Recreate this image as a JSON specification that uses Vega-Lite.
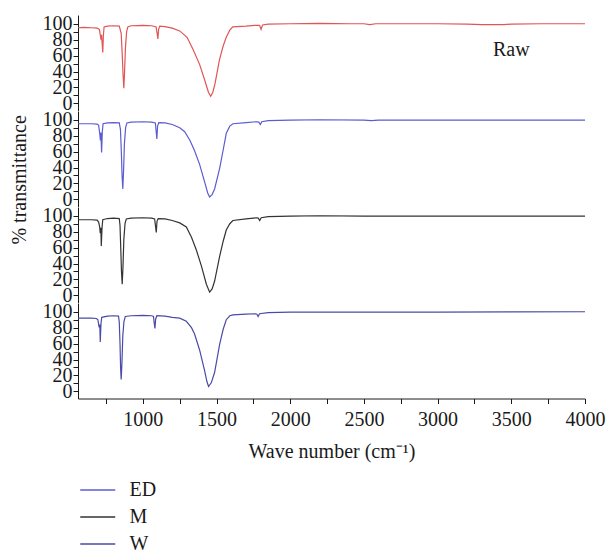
{
  "$schema": "https://vega.github.io/schema/vega-lite/v6.json",
  "padding": {"left": 10, "top": 13, "right": 4, "bottom": 0},
  "background": "white",
  "bounds": "flush",
  "config": {
    "font": "Liberation Serif",
    "view": {"stroke": null},
    "concat": {"spacing": 0}
  },
  "title": {"text": "% transmittance", "orient": "left", "anchor": "middle", "font": "Liberation Serif", "fontSize": 20, "fontWeight": "normal", "color": "#1a1a1a", "offset": 12, "dx": 104},
  "datasets": {
    "spectra": [
      {"series":"Raw","x":560,"y":95},{"series":"Raw","x":600,"y":95.5},{"series":"Raw","x":650,"y":95},{"series":"Raw","x":690,"y":94.5},{"series":"Raw","x":705,"y":93},{"series":"Raw","x":712,"y":85},{"series":"Raw","x":716,"y":80},{"series":"Raw","x":720,"y":86},{"series":"Raw","x":724,"y":75},{"series":"Raw","x":728,"y":64},{"series":"Raw","x":732,"y":85},{"series":"Raw","x":737,"y":96},{"series":"Raw","x":760,"y":97},{"series":"Raw","x":800,"y":97.5},{"series":"Raw","x":840,"y":97},{"series":"Raw","x":853,"y":88},{"series":"Raw","x":860,"y":62},{"series":"Raw","x":866,"y":35},{"series":"Raw","x":871,"y":19},{"series":"Raw","x":876,"y":40},{"series":"Raw","x":882,"y":70},{"series":"Raw","x":890,"y":90},{"series":"Raw","x":898,"y":96},{"series":"Raw","x":920,"y":97.5},{"series":"Raw","x":1000,"y":98},{"series":"Raw","x":1060,"y":97.5},{"series":"Raw","x":1090,"y":96},{"series":"Raw","x":1097,"y":88},{"series":"Raw","x":1102,"y":81},{"series":"Raw","x":1107,"y":93},{"series":"Raw","x":1115,"y":97},{"series":"Raw","x":1150,"y":96.5},{"series":"Raw","x":1200,"y":94.5},{"series":"Raw","x":1250,"y":91},{"series":"Raw","x":1300,"y":83},{"series":"Raw","x":1340,"y":68},{"series":"Raw","x":1385,"y":49},{"series":"Raw","x":1420,"y":29},{"series":"Raw","x":1445,"y":14},{"series":"Raw","x":1460,"y":9},{"series":"Raw","x":1475,"y":14},{"series":"Raw","x":1490,"y":25},{"series":"Raw","x":1520,"y":55},{"series":"Raw","x":1545,"y":72},{"series":"Raw","x":1566,"y":83},{"series":"Raw","x":1590,"y":92},{"series":"Raw","x":1610,"y":96},{"series":"Raw","x":1700,"y":97},{"series":"Raw","x":1760,"y":98},{"series":"Raw","x":1792,"y":98},{"series":"Raw","x":1802,"y":93},{"series":"Raw","x":1812,"y":98.5},{"series":"Raw","x":1850,"y":99.5},{"series":"Raw","x":2000,"y":100},{"series":"Raw","x":2200,"y":100.5},{"series":"Raw","x":2400,"y":100},{"series":"Raw","x":2500,"y":100},{"series":"Raw","x":2540,"y":99},{"series":"Raw","x":2580,"y":100},{"series":"Raw","x":2800,"y":100},{"series":"Raw","x":3000,"y":100},{"series":"Raw","x":3200,"y":99.5},{"series":"Raw","x":3300,"y":99},{"series":"Raw","x":3450,"y":99},{"series":"Raw","x":3500,"y":99.5},{"series":"Raw","x":3700,"y":100},{"series":"Raw","x":4000,"y":100},

      {"series":"ED","x":560,"y":95},{"series":"ED","x":600,"y":95},{"series":"ED","x":650,"y":95},{"series":"ED","x":690,"y":94.5},{"series":"ED","x":700,"y":93},{"series":"ED","x":708,"y":82},{"series":"ED","x":712,"y":74},{"series":"ED","x":716,"y":84},{"series":"ED","x":720,"y":59},{"series":"ED","x":725,"y":85},{"series":"ED","x":730,"y":95},{"series":"ED","x":760,"y":96},{"series":"ED","x":800,"y":96.5},{"series":"ED","x":840,"y":96},{"series":"ED","x":848,"y":88},{"series":"ED","x":854,"y":60},{"series":"ED","x":859,"y":30},{"series":"ED","x":864,"y":13},{"series":"ED","x":869,"y":35},{"series":"ED","x":875,"y":70},{"series":"ED","x":883,"y":90},{"series":"ED","x":892,"y":96},{"series":"ED","x":920,"y":97},{"series":"ED","x":1000,"y":97.5},{"series":"ED","x":1060,"y":97},{"series":"ED","x":1085,"y":96},{"series":"ED","x":1090,"y":86},{"series":"ED","x":1095,"y":76},{"series":"ED","x":1100,"y":92},{"series":"ED","x":1108,"y":96.5},{"series":"ED","x":1150,"y":96},{"series":"ED","x":1200,"y":94},{"series":"ED","x":1250,"y":90},{"series":"ED","x":1284,"y":85},{"series":"ED","x":1320,"y":74},{"series":"ED","x":1351,"y":61},{"series":"ED","x":1385,"y":44},{"series":"ED","x":1419,"y":22},{"series":"ED","x":1440,"y":8},{"series":"ED","x":1453,"y":3},{"series":"ED","x":1470,"y":6},{"series":"ED","x":1487,"y":13},{"series":"ED","x":1521,"y":39},{"series":"ED","x":1545,"y":62},{"series":"ED","x":1566,"y":83},{"series":"ED","x":1590,"y":92},{"series":"ED","x":1611,"y":95},{"series":"ED","x":1700,"y":96.5},{"series":"ED","x":1770,"y":97.5},{"series":"ED","x":1787,"y":97},{"series":"ED","x":1797,"y":94},{"series":"ED","x":1807,"y":97.5},{"series":"ED","x":1850,"y":99},{"series":"ED","x":2000,"y":99.5},{"series":"ED","x":2200,"y":100},{"series":"ED","x":2500,"y":99.5},{"series":"ED","x":2550,"y":99},{"series":"ED","x":2600,"y":99.5},{"series":"ED","x":2800,"y":99.5},{"series":"ED","x":3000,"y":99.5},{"series":"ED","x":3500,"y":99.5},{"series":"ED","x":4000,"y":99.5},

      {"series":"M","x":560,"y":95},{"series":"M","x":600,"y":95},{"series":"M","x":650,"y":95},{"series":"M","x":690,"y":94.5},{"series":"M","x":700,"y":92},{"series":"M","x":707,"y":86},{"series":"M","x":711,"y":78},{"series":"M","x":715,"y":85},{"series":"M","x":718,"y":62},{"series":"M","x":723,"y":85},{"series":"M","x":728,"y":95},{"series":"M","x":760,"y":96.5},{"series":"M","x":800,"y":97},{"series":"M","x":840,"y":96.5},{"series":"M","x":845,"y":88},{"series":"M","x":850,"y":60},{"series":"M","x":855,"y":30},{"series":"M","x":860,"y":14},{"series":"M","x":865,"y":35},{"series":"M","x":871,"y":70},{"series":"M","x":879,"y":90},{"series":"M","x":888,"y":96},{"series":"M","x":920,"y":97},{"series":"M","x":1000,"y":97.5},{"series":"M","x":1060,"y":97},{"series":"M","x":1080,"y":96},{"series":"M","x":1086,"y":87},{"series":"M","x":1091,"y":79},{"series":"M","x":1096,"y":93},{"series":"M","x":1104,"y":96.5},{"series":"M","x":1150,"y":96},{"series":"M","x":1200,"y":94},{"series":"M","x":1250,"y":91},{"series":"M","x":1295,"y":86},{"series":"M","x":1330,"y":73},{"series":"M","x":1363,"y":57},{"series":"M","x":1397,"y":37},{"series":"M","x":1431,"y":14},{"series":"M","x":1453,"y":4},{"series":"M","x":1470,"y":8},{"series":"M","x":1487,"y":18},{"series":"M","x":1521,"y":49},{"series":"M","x":1545,"y":68},{"series":"M","x":1566,"y":82},{"series":"M","x":1590,"y":90},{"series":"M","x":1611,"y":94},{"series":"M","x":1700,"y":96},{"series":"M","x":1770,"y":97.5},{"series":"M","x":1783,"y":97},{"series":"M","x":1793,"y":94},{"series":"M","x":1803,"y":97.5},{"series":"M","x":1850,"y":99},{"series":"M","x":2000,"y":99.5},{"series":"M","x":2200,"y":100},{"series":"M","x":2500,"y":99.5},{"series":"M","x":2800,"y":99.5},{"series":"M","x":3000,"y":99.5},{"series":"M","x":3500,"y":99.5},{"series":"M","x":4000,"y":99.5},

      {"series":"W","x":560,"y":92},{"series":"W","x":600,"y":92},{"series":"W","x":650,"y":92},{"series":"W","x":685,"y":91.5},{"series":"W","x":695,"y":90},{"series":"W","x":702,"y":82},{"series":"W","x":705,"y":80},{"series":"W","x":708,"y":84},{"series":"W","x":711,"y":62},{"series":"W","x":716,"y":85},{"series":"W","x":721,"y":93},{"series":"W","x":760,"y":94.5},{"series":"W","x":800,"y":95},{"series":"W","x":835,"y":94.5},{"series":"W","x":840,"y":87},{"series":"W","x":845,"y":60},{"series":"W","x":849,"y":30},{"series":"W","x":853,"y":15},{"series":"W","x":858,"y":35},{"series":"W","x":864,"y":70},{"series":"W","x":872,"y":88},{"series":"W","x":881,"y":94},{"series":"W","x":920,"y":95},{"series":"W","x":1000,"y":95.5},{"series":"W","x":1060,"y":95},{"series":"W","x":1072,"y":94},{"series":"W","x":1077,"y":86},{"series":"W","x":1082,"y":79},{"series":"W","x":1087,"y":91},{"series":"W","x":1095,"y":95},{"series":"W","x":1150,"y":94.5},{"series":"W","x":1200,"y":93},{"series":"W","x":1250,"y":92},{"series":"W","x":1295,"y":88},{"series":"W","x":1330,"y":80},{"series":"W","x":1351,"y":72},{"series":"W","x":1385,"y":52},{"series":"W","x":1419,"y":26},{"series":"W","x":1435,"y":12},{"series":"W","x":1446,"y":6},{"series":"W","x":1465,"y":11},{"series":"W","x":1487,"y":24},{"series":"W","x":1521,"y":59},{"series":"W","x":1545,"y":78},{"series":"W","x":1566,"y":90},{"series":"W","x":1590,"y":95},{"series":"W","x":1611,"y":96},{"series":"W","x":1700,"y":97},{"series":"W","x":1765,"y":97.5},{"series":"W","x":1774,"y":97},{"series":"W","x":1782,"y":94},{"series":"W","x":1792,"y":97.5},{"series":"W","x":1850,"y":99},{"series":"W","x":2000,"y":99.5},{"series":"W","x":2500,"y":99.5},{"series":"W","x":2800,"y":99.5},{"series":"W","x":3000,"y":99.5},{"series":"W","x":3500,"y":99.8},{"series":"W","x":4000,"y":100}
    ],
    "labels": [{"label": "Raw", "x": 3500, "y": 67}]
  },
  "vconcat": [
    {
      "width": 507, "height": 95.5,
      "encoding": {
        "x": {"field": "x", "type": "quantitative", "scale": {"domain": [560, 4000], "nice": false, "zero": false}, "axis": null},
        "y": {"field": "y", "type": "quantitative", "scale": {"domain": [-9, 111], "nice": false, "zero": false}, "axis": {"title": null, "grid": false, "values": [0,10,20,30,40,50,60,70,80,90,100], "labelExpr": "datum.value % 20 === 0 ? datum.label : ''", "labelFont": "Liberation Serif", "labelFontSize": 20, "labelColor": "#1a1a1a", "labelOverlap": false, "labelFlush": false, "labelPadding": 1, "tickSize": 5, "tickColor": "#1a1a1a", "domainColor": "#1a1a1a"}}
      },
      "layer": [
        {
          "data": {"name": "spectra"},
          "transform": [{"filter": "datum.series === 'Raw'"}],
          "mark": {"type": "line", "strokeWidth": 1.2, "color": "#e05555"}
        },
        {
          "data": {"name": "labels"},
          "mark": {"type": "text", "font": "Liberation Serif", "fontSize": 20, "color": "#1a1a1a", "align": "center", "baseline": "middle"},
          "encoding": {"text": {"field": "label"}}
        }
      ]
    },
    {
      "width": 507, "height": 95.5,
      "data": {"name": "spectra"},
      "transform": [{"filter": "datum.series === 'ED'"}],
      "mark": {"type": "line", "strokeWidth": 1.2},
      "encoding": {
        "x": {"field": "x", "type": "quantitative", "scale": {"domain": [560, 4000], "nice": false, "zero": false}, "axis": null},
        "y": {"field": "y", "type": "quantitative", "scale": {"domain": [-9, 111], "nice": false, "zero": false}, "axis": {"title": null, "grid": false, "values": [0,10,20,30,40,50,60,70,80,90,100], "labelExpr": "datum.value % 20 === 0 ? datum.label : ''", "labelFont": "Liberation Serif", "labelFontSize": 20, "labelColor": "#1a1a1a", "labelOverlap": false, "labelFlush": false, "labelPadding": 1, "tickSize": 5, "tickColor": "#1a1a1a", "domainColor": "#1a1a1a"}},
        "color": {"field": "series", "type": "nominal", "scale": {"domain": ["ED", "M", "W"], "range": ["#5c5cd2", "#333333", "#4a4aa8"]}, "legend": {"title": null, "orient": "none", "legendX": 9.75, "legendY": 465, "symbolType": "M-2,0H2", "symbolSize": 306.25, "symbolStrokeWidth": 1.3, "labelOffset": 21.75, "rowPadding": 7, "labelFont": "Liberation Serif", "labelFontSize": 20, "labelColor": "#1a1a1a"}}
      }
    },
    {
      "width": 507, "height": 95.5,
      "data": {"name": "spectra"},
      "transform": [{"filter": "datum.series === 'M'"}],
      "mark": {"type": "line", "strokeWidth": 1.2},
      "encoding": {
        "x": {"field": "x", "type": "quantitative", "scale": {"domain": [560, 4000], "nice": false, "zero": false}, "axis": null},
        "y": {"field": "y", "type": "quantitative", "scale": {"domain": [-9, 111], "nice": false, "zero": false}, "axis": {"title": null, "grid": false, "values": [0,10,20,30,40,50,60,70,80,90,100], "labelExpr": "datum.value % 20 === 0 ? datum.label : ''", "labelFont": "Liberation Serif", "labelFontSize": 20, "labelColor": "#1a1a1a", "labelOverlap": false, "labelFlush": false, "labelPadding": 1, "tickSize": 5, "tickColor": "#1a1a1a", "domainColor": "#1a1a1a"}},
        "color": {"field": "series", "type": "nominal"}
      }
    },
    {
      "width": 507, "height": 95.5,
      "data": {"name": "spectra"},
      "transform": [{"filter": "datum.series === 'W'"}],
      "mark": {"type": "line", "strokeWidth": 1.2},
      "encoding": {
        "x": {"field": "x", "type": "quantitative", "scale": {"domain": [560, 4000], "nice": false, "zero": false}, "axis": {"title": "Wave number (cm⁻¹)", "grid": false, "values": [750,1000,1250,1500,1750,2000,2250,2500,2750,3000,3250,3500,3750,4000], "labelExpr": "datum.value % 500 === 0 ? datum.label : ''", "format": "d", "labelPadding": 6, "titlePadding": 12, "labelFont": "Liberation Serif", "labelFontSize": 20, "labelColor": "#1a1a1a", "labelOverlap": false, "labelFlush": false, "tickSize": 5, "tickColor": "#1a1a1a", "domainColor": "#1a1a1a", "titleFont": "Liberation Serif", "titleFontSize": 20, "titleFontWeight": "normal", "titleColor": "#1a1a1a"}},
        "y": {"field": "y", "type": "quantitative", "scale": {"domain": [-9, 111], "nice": false, "zero": false}, "axis": {"title": null, "grid": false, "values": [0,10,20,30,40,50,60,70,80,90,100], "labelExpr": "datum.value % 20 === 0 ? datum.label : ''", "labelFont": "Liberation Serif", "labelFontSize": 20, "labelColor": "#1a1a1a", "labelOverlap": false, "labelFlush": false, "labelPadding": 1, "tickSize": 5, "tickColor": "#1a1a1a", "domainColor": "#1a1a1a"}},
        "color": {"field": "series", "type": "nominal"}
      }
    }
  ]
}
